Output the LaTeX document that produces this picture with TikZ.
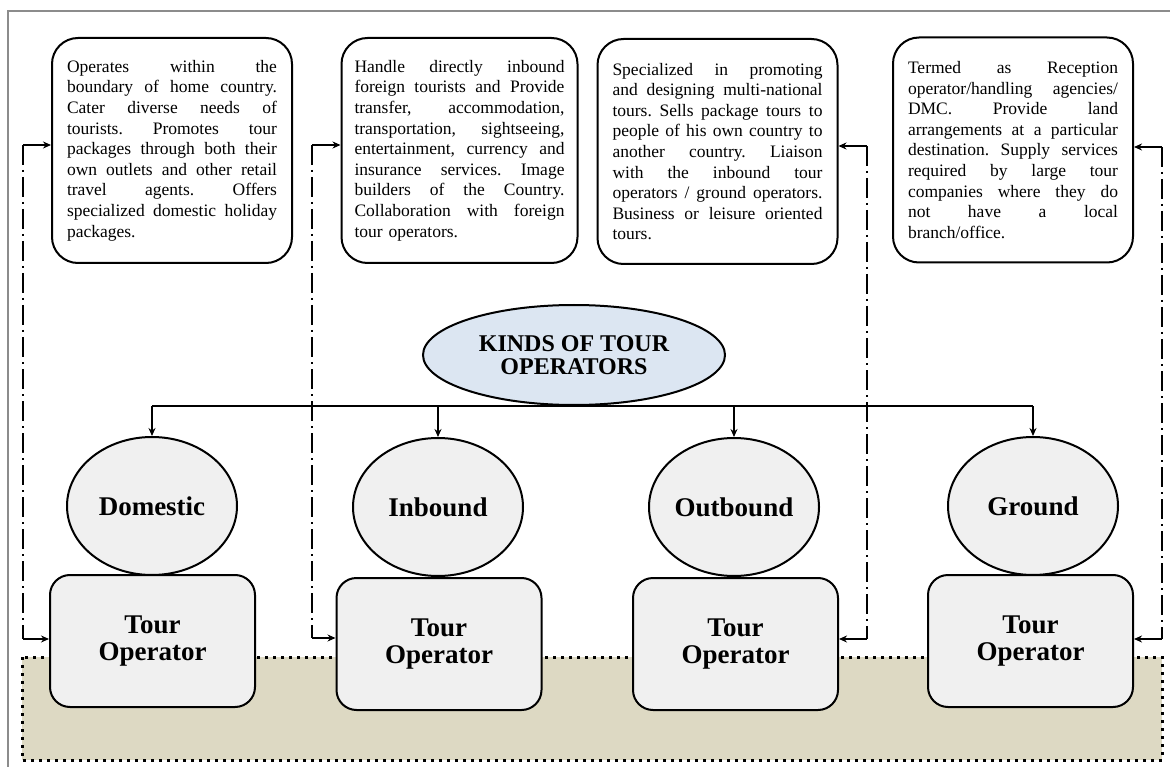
\documentclass[tikz,border=0pt]{standalone}
\usepackage{fontspec}
\setmainfont{Liberation Serif}
\usetikzlibrary{shapes.geometric,arrows.meta}

\definecolor{bandtan}{HTML}{DDD9C3}
\definecolor{shapegray}{HTML}{F0F0F0}
\definecolor{titleblue}{HTML}{DCE6F2}
\definecolor{framegray}{HTML}{8C8C8C}

% one fully justified line of a description box: the words are spread
% over the whole width with equal gaps between them
\def\jspread#1 #2\jspend{#1\ifx\relax#2\relax\else\hfill\jspread#2\jspend\fi}
\newcommand{\fullline}[1]{\leavevmode\hbox to 210pt{\jspread#1 \jspend}}

\begin{document}
\begin{tikzpicture}[x=1pt,y=-1pt,
  descbox/.style={draw,line width=2pt,rounded corners=26pt,fill=white,
    minimum width=240pt,minimum height=225pt,text width=210pt,inner sep=0pt,
    align=left,font=\fontsize{17.5}{20.6}\selectfont},
  kindnode/.style={ellipse,draw,line width=2pt,fill=shapegray,
    minimum width=170pt,minimum height=138pt,inner sep=0pt,
    font=\fontsize{27}{27}\selectfont\bfseries},
  opbox/.style={draw,line width=2pt,rounded corners=20pt,fill=shapegray,
    minimum width=205pt,minimum height=132pt,align=center,inner sep=0pt,
    font=\fontsize{27}{27}\selectfont\bfseries},
  linkline/.style={line width=2pt,dash pattern=on 20pt off 5pt on 2pt off 5pt},
  linktip/.style={line width=2pt,-{Stealth[length=8pt,width=7pt]}},
  bustip/.style={line width=2pt,-{Stealth[length=8pt,width=7pt]}},
]
\useasboundingbox (0,0) rectangle (1170,767);
\fill[white] (0,0) rectangle (1170,767);

% page frame
\draw[framegray,line width=1.5pt] (8,770) -- (8,11) -- (1172,11);

% tan band under the operator boxes
\fill[bandtan] (22,657) rectangle (1162,760);
\draw[line width=3pt,dash pattern=on 3pt off 5pt] (22,657) rectangle (1162,760);

% description boxes
\node[descbox] (d1) at (172,150.5) {%
\fullline{Operates within the}\\
\fullline{boundary of home country.}\\
\fullline{Cater diverse needs of}\\
\fullline{tourists. Promotes tour}\\
\fullline{packages through both their}\\
\fullline{own outlets and other retail}\\
\fullline{travel agents. Offers}\\
\fullline{specialized domestic holiday}\\
packages.};

\node[descbox,minimum width=236pt] (d2) at (459.5,150.5) {%
\fullline{Handle directly inbound}\\
\fullline{foreign tourists and Provide}\\
\fullline{transfer, accommodation,}\\
\fullline{transportation, sightseeing,}\\
\fullline{entertainment, currency and}\\
\fullline{insurance services. Image}\\
\fullline{builders of the Country.}\\
\fullline{Collaboration with foreign}\\
tour operators.};

\node[descbox] (d3) at (717.5,151.5) {%
\fullline{Specialized in promoting}\\
\fullline{and designing multi-national}\\
\fullline{tours. Sells package tours to}\\
\fullline{people of his own country to}\\
\fullline{another country. Liaison}\\
\fullline{with the inbound tour}\\
\fullline{operators / ground operators.}\\
\fullline{Business or leisure oriented}\\
tours.};

\node[descbox] (d4) at (1013,150) {%
\fullline{Termed as Reception}\\
\fullline{operator/handling agencies/}\\
\fullline{DMC. Provide land}\\
\fullline{arrangements at a particular}\\
\fullline{destination. Supply services}\\
\fullline{required by large tour}\\
\fullline{companies where they do}\\
\fullline{not have a local}\\
branch/office.};

% central title
\node[ellipse,draw,line width=2pt,fill=titleblue,minimum width=302pt,
  minimum height=100pt,inner sep=0pt,align=center,
  font=\fontsize{24}{23.5}\selectfont\bfseries] (title) at (574,355)
  {KINDS OF TOUR\\OPERATORS};

% kinds
\node[kindnode] (dom)  at (152,506) {Domestic};
\node[kindnode] (inb)  at (438,507) {Inbound};
\node[kindnode] (outb) at (734,507) {Outbound};
\node[kindnode] (grd)  at (1033,506) {Ground};

% operator boxes
\node[opbox] (op1) at (152.5,641) {Tour\\Operator};
\node[opbox] (op2) at (439,644) {Tour\\Operator};
\node[opbox] (op3) at (735.5,644) {Tour\\Operator};
\node[opbox] (op4) at (1030.5,641) {Tour\\Operator};

% distribution bus from the title
\draw[line width=2pt] (dom.north |- title.south) -- (grd.north |- title.south);
\foreach \k in {dom,inb,outb,grd}
  \draw[bustip] (\k.north |- title.south) -- (\k.north);

% dash-dot links between each operator box and its description
\coordinate (l1t) at (23,145);   \coordinate (l1b) at (23,639);
\coordinate (l2t) at (312,145);  \coordinate (l2b) at (312,638);
\coordinate (l3t) at (867,146);  \coordinate (l3b) at (867,639);
\coordinate (l4t) at (1162,147); \coordinate (l4b) at (1162,639);

\draw[linkline] (l1t) -- (l1b);
\draw[linktip] (l1t) -- (l1t -| d1.west);
\draw[linktip] (l1b) -- (l1b -| op1.west);

\draw[linkline] (l2t) -- (l2b);
\draw[linktip] (l2t) -- (l2t -| d2.west);
\draw[linktip] (l2b) -- (l2b -| op2.west);

\draw[linkline] (l3t) -- (l3b);
\draw[linktip] (l3t) -- (l3t -| d3.east);
\draw[linktip] (l3b) -- (l3b -| op3.east);

\draw[linkline] (l4t) -- (l4b);
\draw[linktip] (l4t) -- (l4t -| d4.east);
\draw[linktip] (l4b) -- (l4b -| op4.east);
\end{tikzpicture}
\end{document}
